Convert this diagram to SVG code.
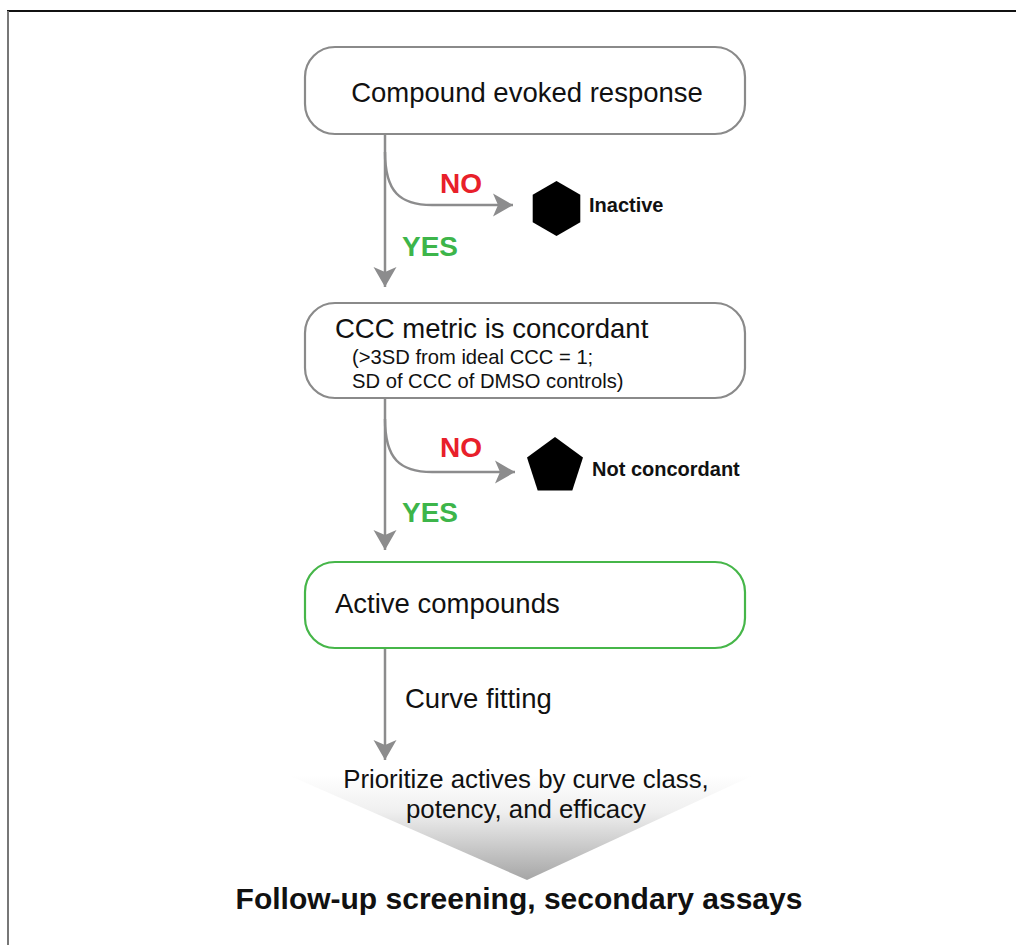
<svg xmlns="http://www.w3.org/2000/svg" width="1016" height="945" viewBox="0 0 1016 945">
<defs>
<style>
.box{fill:#fff;stroke:#8a8a8a;stroke-width:2.2}
.green{stroke:#46b649}
.main{font-family:"Liberation Sans",Arial,sans-serif;font-size:27.5px;fill:#111}
.sub{font-family:"Liberation Sans",Arial,sans-serif;font-size:20.2px;fill:#111}
.lbl{font-family:"Liberation Sans",Arial,sans-serif;font-size:20px;font-weight:bold;fill:#111}
.no{font-family:"Liberation Sans",Arial,sans-serif;font-size:28px;font-weight:bold;fill:#e8202a}
.yes{font-family:"Liberation Sans",Arial,sans-serif;font-size:28px;font-weight:bold;fill:#3db54a}
.conn{fill:none;stroke:#8c8c8d;stroke-width:2.5}
</style>
<marker id="ah" markerUnits="userSpaceOnUse" viewBox="0 0 24 24" markerWidth="24" markerHeight="24" refX="21" refY="12" orient="auto">
<path d="M21,12 L1,0.5 L6,12 L1,23.5 Z" fill="#8c8c8d"/>
</marker>
<linearGradient id="tri" x1="0" y1="0" x2="0" y2="1">
<stop offset="0" stop-color="#ffffff"/>
<stop offset="0.35" stop-color="#efefef"/>
<stop offset="1" stop-color="#a6a6a6"/>
</linearGradient>
</defs>
<rect width="1016" height="945" fill="#fff"/>
<g id="frame">
<line x1="7" y1="11" x2="1016" y2="11" stroke="#111" stroke-width="2"/>
<line x1="8" y1="11" x2="8" y2="945" stroke="#777" stroke-width="2"/>
</g>
<g id="connectors">
<path class="conn" d="M385,134 L385,287" marker-end="url(#ah)"/>
<path class="conn" d="M385,152 C385,192 400,205 432,205 L513,205" marker-end="url(#ah)"/>
<path class="conn" d="M385,398 L385,550" marker-end="url(#ah)"/>
<path class="conn" d="M385,419 C385,459 400,472 432,472 L515,472" marker-end="url(#ah)"/>
<path class="conn" d="M385,648 L385,760" marker-end="url(#ah)"/>
<text class="no" x="440" y="193">NO</text>
<text class="yes" x="402" y="256">YES</text>
<text class="no" x="440" y="457">NO</text>
<text class="yes" x="402" y="522">YES</text>
<text class="main" x="405" y="708">Curve fitting</text>
</g>
<g id="n-response">
<rect class="box" x="305" y="47" width="440" height="87" rx="30"/>
<text class="main" x="527" y="102" text-anchor="middle">Compound evoked response</text>
</g>
<g id="n-inactive">
<polygon points="556.5,181 580.3,194.75 580.3,222.25 556.5,236 532.7,222.25 532.7,194.75" fill="#000"/>
<text class="lbl" x="589" y="212">Inactive</text>
</g>
<g id="n-ccc">
<rect class="box" x="305" y="303" width="440" height="95" rx="30"/>
<text class="main" x="335" y="338">CCC metric is concordant</text>
<text class="sub" x="352" y="364">(&gt;3SD from ideal CCC = 1;</text>
<text class="sub" x="352" y="388">SD of CCC of DMSO controls)</text>
</g>
<g id="n-notconc">
<polygon points="555,437 583,457.4 572.3,490.4 537.7,490.4 527,457.4" fill="#000"/>
<text class="lbl" x="592" y="476">Not concordant</text>
</g>
<g id="n-active">
<rect class="box green" x="305" y="562" width="440" height="86" rx="30"/>
<text class="main" x="335" y="613">Active compounds</text>
</g>
<g id="n-prioritize">
<polygon points="288,775 754,775 527,880" fill="url(#tri)"/>
<text class="sub" x="526" y="788" text-anchor="middle" style="font-size:25.8px">Prioritize actives by curve class,</text>
<text class="sub" x="526" y="818" text-anchor="middle" style="font-size:25.8px">potency, and efficacy</text>
</g>
<g id="n-followup">
<text class="lbl" x="519" y="909" text-anchor="middle" style="font-size:30px">Follow-up screening, secondary assays</text>
</g>
</svg>
